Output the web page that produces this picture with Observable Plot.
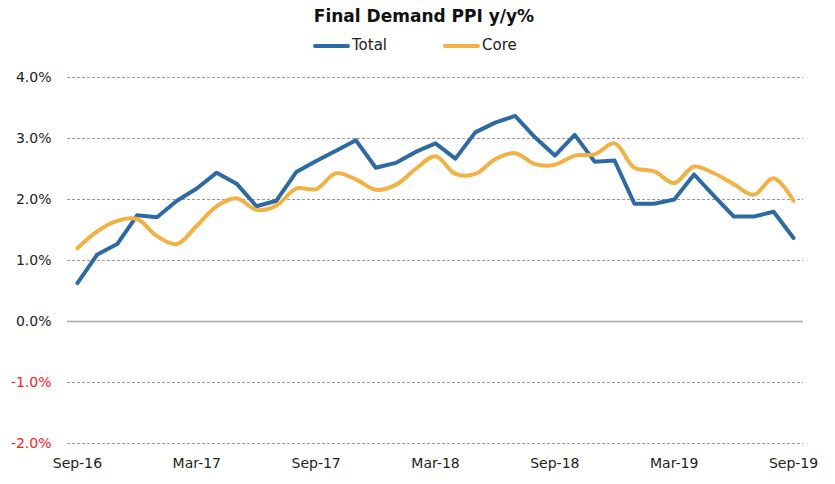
<!DOCTYPE html>
<html>
<head>
<meta charset="utf-8">
<script src="https://cdn.jsdelivr.net/npm/d3@7"></script>
<script src="https://cdn.jsdelivr.net/npm/@observablehq/plot@0.6"></script>
<style>
  html, body { margin: 0; padding: 0; background: #fff; overflow: hidden; }
  body { width: 835px; height: 484px; font-family: "DejaVu Sans", sans-serif; color: #222; }
  #header { position: relative; width: 835px; height: 58px; }
  #title { position: absolute; left: 224px; width: 400px; top: 6px; text-align: center; font-weight: bold; font-size: 17px; color: #111; }
  .sw { position: absolute; top: 44px; width: 37px; height: 4px; border-radius: 2px; }
  .lt { position: absolute; top: 36px; font-size: 15px; color: #222; }
</style>
</head>
<body>
<div id="header">
  <div id="title">Final Demand PPI y/y%</div>
  <div class="sw" style="left:313px;background:#2d6aa3"></div>
  <div class="lt" style="left:352px">Total</div>
  <div class="sw" style="left:443px;background:#f2b144"></div>
  <div class="lt" style="left:482px">Core</div>
</div>
<div id="chart"></div>
<script>
const months = ["Sep-16","Oct-16","Nov-16","Dec-16","Jan-17","Feb-17","Mar-17","Apr-17","May-17","Jun-17","Jul-17","Aug-17",
  "Sep-17","Oct-17","Nov-17","Dec-17","Jan-18","Feb-18","Mar-18","Apr-18","May-18","Jun-18","Jul-18","Aug-18",
  "Sep-18","Oct-18","Nov-18","Dec-18","Jan-19","Feb-19","Mar-19","Apr-19","May-19","Jun-19","Jul-19","Aug-19","Sep-19"];
const total = [0.63,1.10,1.27,1.74,1.71,1.98,2.18,2.44,2.26,1.89,1.98,2.45,
  2.63,2.80,2.97,2.52,2.60,2.78,2.92,2.67,3.10,3.26,3.37,3.02,
  2.72,3.06,2.62,2.64,1.93,1.93,2.00,2.41,2.06,1.72,1.72,1.80,1.37];
const core = [1.20,1.48,1.65,1.68,1.40,1.27,1.57,1.89,2.02,1.83,1.90,2.18,
  2.17,2.43,2.33,2.16,2.24,2.50,2.71,2.42,2.42,2.66,2.76,2.58,
  2.57,2.72,2.74,2.92,2.52,2.46,2.27,2.54,2.43,2.25,2.08,2.35,1.98];
const xTicks = ["Sep-16","Mar-17","Sep-17","Mar-18","Sep-18","Mar-19","Sep-19"];
const yTicksPos = [0,1,2,3,4];
const yTicksNeg = [-1,-2];
const gridDashed = [4,3,2,1,-1,-2];

const totalRows = months.map((m, i) => ({m, v: total[i]}));
const coreRows = months.map((m, i) => ({m, v: core[i]}));
const fmt = d => d.toFixed(1) + "%";

const chart = Plot.plot({
  width: 835,
  height: 426,
  marginLeft: 67,
  marginRight: 32,
  marginTop: 19,
  marginBottom: 41,
  style: {fontFamily: "DejaVu Sans, sans-serif", background: "#fff"},
  x: {type: "point", domain: months, padding: 0.5},
  y: {domain: [-2, 4]},
  marks: [
    Plot.ruleY(gridDashed, {stroke: "#9a9a9a", strokeDasharray: "3,2", strokeWidth: 1}),
    Plot.ruleY([0], {stroke: "#a5a5a5", strokeWidth: 1.5}),
    Plot.axisY(yTicksPos, {tickSize: 0, tickPadding: 16, tickFormat: fmt, fontSize: 14, fill: "#222", label: null}),
    Plot.axisY(yTicksNeg, {tickSize: 0, tickPadding: 16, tickFormat: fmt, fontSize: 14, fill: "#ff1a1a", label: null}),
    Plot.axisX(xTicks, {tickSize: 0, tickPadding: 15, fontSize: 14, fill: "#222", label: null}),
    Plot.line(totalRows, {x: "m", y: "v", stroke: "#2d6aa3", strokeWidth: 4}),
    Plot.line(coreRows, {x: "m", y: "v", stroke: "#f2b144", strokeWidth: 4, curve: "catmull-rom"})
  ]
});
document.getElementById("chart").appendChild(chart);
</script>
</body>
</html>
